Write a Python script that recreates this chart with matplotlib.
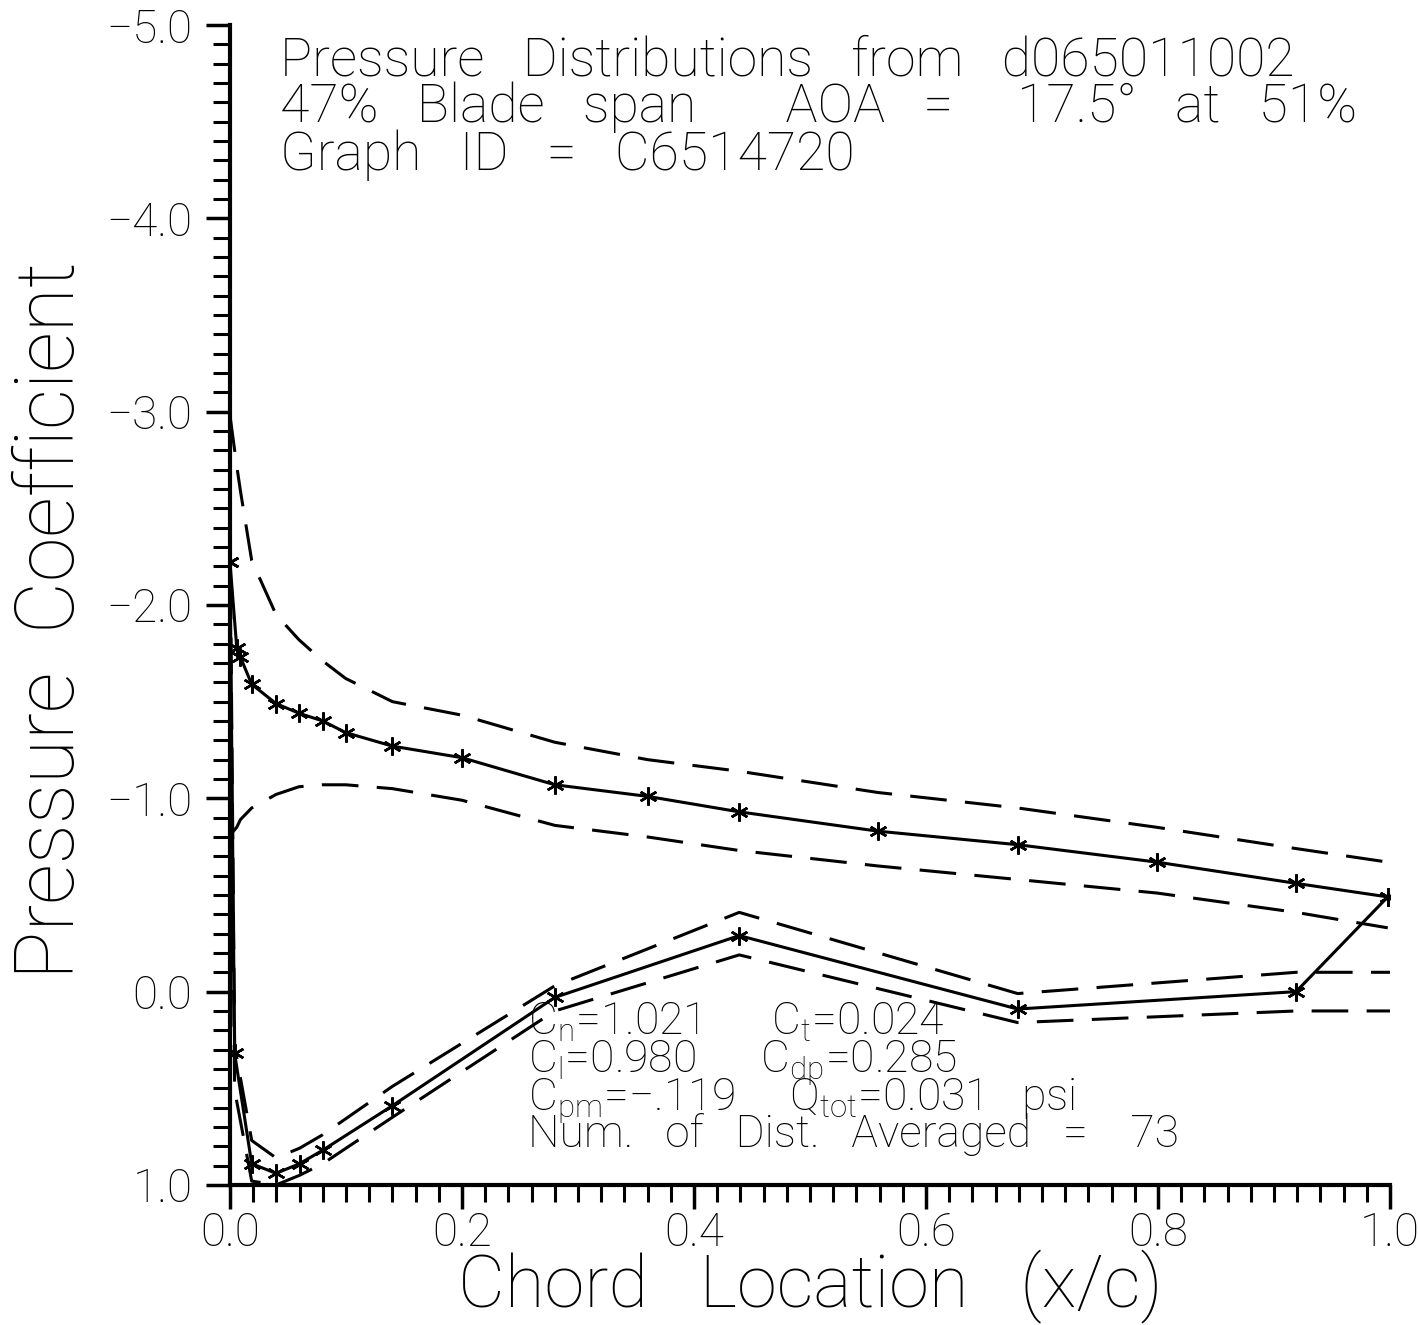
import numpy as np
import matplotlib
matplotlib.use('Agg')
import matplotlib.pyplot as plt
from matplotlib.ticker import MultipleLocator

# -----------------
# DATA
# -----------------
x_upper = [0.0, 0.0058, 0.009, 0.0187, 0.0397, 0.0595, 0.08, 0.0997, 0.14, 0.20,
           0.28, 0.36, 0.439, 0.5586, 0.679, 0.799, 0.919, 0.998]
cp_upper = [-2.22, -1.78, -1.73, -1.59, -1.49, -1.44, -1.40, -1.34, -1.27, -1.21,
            -1.07, -1.01, -0.93, -0.83, -0.76, -0.67, -0.56, -0.49]
cp_upper_max = [-2.98, -2.72, -2.59, -2.23, -1.95, -1.82, -1.71, -1.62, -1.50, -1.43,
                -1.29, -1.20, -1.14, -1.03, -0.95, -0.85, -0.74, -0.67]
cp_upper_min = [-0.81, -0.85, -0.89, -0.95, -1.02, -1.06, -1.07, -1.07, -1.05, -0.99,
                -0.86, -0.80, -0.73, -0.65, -0.58, -0.51, -0.41, -0.33]

x_lower = [0.0, 0.004, 0.0187, 0.0397, 0.06, 0.08, 0.14, 0.28, 0.439, 0.679, 0.919, 0.998]
cp_lower = [-2.22, 0.32, 0.89, 0.94, 0.89, 0.82, 0.59, 0.03, -0.29, 0.09, 0.00, -0.49]
x_lower_env = [0.0, 0.004, 0.0187, 0.0397, 0.06, 0.08, 0.14, 0.28, 0.439, 0.679, 0.919, 1.0]
cp_lower_max = [-2.40, 0.28, 0.77, 0.86, 0.81, 0.74, 0.49, -0.03, -0.41, 0.01, -0.10, -0.10]
cp_lower_min = [-2.00, 0.51, 0.98, 1.00, 0.95, 0.89, 0.65, 0.10, -0.19, 0.16, 0.10, 0.10]

title_lines = ['Pressure   Distributions   from   d065011002',
               '47%   Blade   span       AOA   =     17.5\u00b0   at   51%',
               'Graph   ID   =   C6514720']
coef_lines = ['C$_n$=1.021      C$_t$=0.024',
              'C$_l$=0.980      C$_{dp}$=0.285',
              'C$_{pm}$=\u2212.119     Q$_{tot}$=0.031   psi',
              'Num.   of   Dist.   Averaged   =    73']

# -----------------
# STYLE
# -----------------
plt.rcParams['font.family'] = ['Roboto', 'DejaVu Sans']
plt.rcParams['font.weight'] = 'light'
plt.rcParams['axes.labelweight'] = 'light'
plt.rcParams['mathtext.default'] = 'regular'

DASH = (0, (12, 6))


def main():
    fig = plt.figure(figsize=(14.18, 13.25), dpi=100)
    ax = fig.add_axes([0.1622, 0.1057, 0.8181, 0.8754])

    # envelopes
    for cp in (cp_upper_max, cp_upper_min):
        ax.plot(x_upper, cp, color='black', lw=2.2, linestyle=DASH)
    for cp in (cp_lower_max, cp_lower_min):
        ax.plot(x_lower_env, cp, color='black', lw=2.2, linestyle=DASH)

    # mean distributions
    star = (6, 2, 0)
    ax.plot(x_upper, cp_upper, color='black', lw=2.2, marker=star, ms=13, mew=1.8)
    ax.plot(x_lower, cp_lower, color='black', lw=2.2, marker=star, ms=13, mew=1.8)

    # axes
    ax.set_xlim(0.0, 1.0)
    ax.set_ylim(1.0, -5.0)
    ax.spines['top'].set_visible(False)
    ax.spines['right'].set_visible(False)
    ax.spines['left'].set_linewidth(3)
    ax.spines['bottom'].set_linewidth(3)

    ax.xaxis.set_major_locator(MultipleLocator(0.2))
    ax.xaxis.set_minor_locator(MultipleLocator(0.02))
    ax.yaxis.set_major_locator(MultipleLocator(1.0))
    ax.yaxis.set_minor_locator(MultipleLocator(0.1))
    ax.xaxis.set_major_formatter(lambda v, p: f'{v:.1f}')
    ax.yaxis.set_major_formatter(lambda v, p: f'{v:.1f}'.replace('-', '\u2212'))

    ax.tick_params(which='major', direction='out', length=17, width=2.5,
                   labelsize=33)
    ax.tick_params(axis='x', which='major', pad=2)
    ax.tick_params(axis='y', which='major', pad=10)
    ax.tick_params(which='minor', direction='out', length=12, width=2.2)

    ax.set_xlabel('Chord   Location   (x/c)', fontsize=52, labelpad=-4)
    ax.set_ylabel('Pressure  Coefficient', fontsize=58, labelpad=11)
    ax.yaxis.label.set_y(0.487)

    # header text
    for i, b in enumerate([75, 122, 170]):
        ax.text(0.043, (1185 - b) / 1160, title_lines[i], transform=ax.transAxes,
                fontsize=38.5, va='baseline', ha='left')

    # coefficient block
    baselines = [1035, 1072, 1110, 1147]
    for line, b in zip(coef_lines, baselines):
        ax.text(0.257, (1185 - b) / 1160, line, transform=ax.transAxes,
                fontsize=32, va='baseline', ha='left')

    fig.savefig('out.png', dpi=100)


if __name__ == '__main__':
    main()
